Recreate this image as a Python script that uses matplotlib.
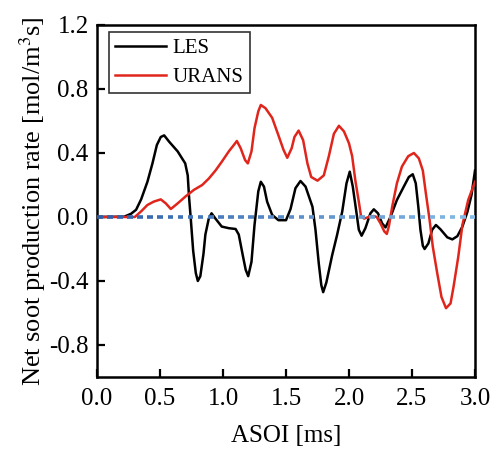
import numpy as np
import matplotlib.pyplot as plt
from matplotlib.collections import LineCollection
from matplotlib.colors import LinearSegmentedColormap

plt.rcParams['font.family'] = ['Liberation Serif', 'DejaVu Serif']
plt.rcParams['mathtext.fontset'] = 'stix'

# LES net soot production rate
les_t = [0.0, 0.216, 0.27, 0.31, 0.35, 0.40, 0.44, 0.475, 0.506, 0.533, 0.573, 0.64,
         0.70, 0.72, 0.73, 0.745, 0.763, 0.784, 0.80, 0.82, 0.845, 0.86, 0.887, 0.909,
         0.94, 0.99, 1.046, 1.10, 1.125, 1.157, 1.18, 1.20, 1.226, 1.25, 1.28, 1.30,
         1.325, 1.35, 1.39, 1.44, 1.50, 1.536, 1.575, 1.615, 1.655, 1.71, 1.734, 1.76,
         1.78, 1.795, 1.82, 1.866, 1.906, 1.946, 1.98, 2.006, 2.03, 2.06, 2.078, 2.10,
         2.13, 2.17, 2.197, 2.23, 2.263, 2.29, 2.33, 2.38, 2.435, 2.475, 2.506, 2.53,
         2.55, 2.567, 2.586, 2.60, 2.63, 2.66, 2.69, 2.726, 2.78, 2.82, 2.86, 2.90,
         2.94, 2.972, 3.0]
les_r = [0.0, 0.002, 0.02, 0.045, 0.11, 0.22, 0.335, 0.45, 0.50, 0.51, 0.47, 0.41,
         0.335, 0.26, 0.13, -0.02, -0.21, -0.35, -0.40, -0.37, -0.23, -0.11, -0.01, 0.023,
         -0.01, -0.06, -0.07, -0.075, -0.11, -0.24, -0.33, -0.37, -0.28, -0.05, 0.16, 0.22,
         0.19, 0.096, 0.013, -0.02, -0.02, 0.05, 0.18, 0.225, 0.19, 0.064, -0.08, -0.29,
         -0.425, -0.47, -0.41, -0.24, -0.11, 0.033, 0.21, 0.283, 0.19, 0.023, -0.08, -0.117,
         -0.07, 0.023, 0.048, 0.023, -0.04, -0.065, 0.002, 0.106, 0.19, 0.25, 0.267, 0.21,
         0.065, -0.08, -0.18, -0.20, -0.165, -0.08, -0.05, -0.077, -0.127, -0.14, -0.12, -0.06,
         0.033, 0.137, 0.29]

# URANS net soot production rate
urans_t = [0.0, 0.30, 0.35, 0.40, 0.45, 0.506, 0.546, 0.586, 0.64, 0.705, 0.77, 0.835,
           0.887, 0.94, 0.99, 1.046, 1.086, 1.11, 1.14, 1.175, 1.197, 1.226, 1.25, 1.28,
           1.30, 1.337, 1.39, 1.44, 1.48, 1.51, 1.545, 1.567, 1.60, 1.636, 1.67, 1.70,
           1.75, 1.80, 1.84, 1.88, 1.92, 1.96, 2.00, 2.025, 2.05, 2.08, 2.095, 2.12,
           2.157, 2.197, 2.22, 2.25, 2.28, 2.30, 2.316, 2.343, 2.38, 2.42, 2.47, 2.515,
           2.554, 2.586, 2.61, 2.64, 2.665, 2.70, 2.734, 2.77, 2.806, 2.83, 2.867, 2.90,
           2.946, 3.0]
urans_r = [0.0, 0.0, 0.035, 0.075, 0.096, 0.11, 0.085, 0.05, 0.085, 0.13, 0.17, 0.20,
           0.24, 0.29, 0.345, 0.41, 0.45, 0.475, 0.43, 0.356, 0.335, 0.41, 0.555, 0.66,
           0.70, 0.68, 0.62, 0.51, 0.42, 0.37, 0.43, 0.50, 0.54, 0.48, 0.335, 0.25,
           0.227, 0.26, 0.38, 0.52, 0.57, 0.535, 0.46, 0.38, 0.23, 0.085, 0.006, -0.01,
           0.0, 0.006, 0.0, -0.04, -0.09, -0.106, -0.06, 0.065, 0.21, 0.315, 0.38, 0.40,
           0.367, 0.29, 0.148, -0.02, -0.185, -0.35, -0.50, -0.57, -0.54, -0.435, -0.25, -0.05,
           0.106, 0.22]

xticks = [0.0, 0.5, 1.0, 1.5, 2.0, 2.5, 3.0]
yticks = [-0.8, -0.4, 0.0, 0.4, 0.8, 1.2]

fig = plt.figure(figsize=(4.91, 4.51), dpi=100)
ax = fig.add_axes([0.1976, 0.1641, 0.7698, 0.7805])

ax.plot(les_t, les_r, color='black', lw=1.8, label='LES', zorder=2,
        solid_joinstyle='round')
ax.plot(urans_t, urans_r, color='#e0261c', lw=1.8, label='URANS', zorder=3,
        solid_joinstyle='round')

# zero reference line, dashed with a dark-to-light blue fade
cmap = LinearSegmentedColormap.from_list('zfade', ['#2d5ea8', '#86bbe6'])
dash, gap = 0.045, 0.035
starts = np.arange(0.0, 3.0, dash + gap)
segs = [[(s, 0.0), (min(s + dash, 3.0), 0.0)] for s in starts]
lc = LineCollection(segs, colors=cmap(starts / 3.0), linewidths=2.6, zorder=4,
                    capstyle='butt')
ax.add_collection(lc)

ax.set_xlim(0.0, 3.0)
ax.set_ylim(-1.0, 1.2)
ax.set_xticks(xticks)
ax.set_yticks(yticks)
ax.set_xticklabels([f'{v:.1f}' for v in xticks])
ax.set_yticklabels([f'{v:.1f}' for v in yticks])
ax.tick_params(direction='in', length=6, width=1.6, labelsize=18,
               top=False, right=False, pad=6)
ax.tick_params(axis='x', pad=8)
for sp in ax.spines.values():
    sp.set_linewidth(1.8)

ax.set_xlabel('ASOI [ms]', fontsize=18, labelpad=11)
ax.set_ylabel(r'Net soot production rate [mol/m$^3$s]', fontsize=19, labelpad=1)

leg = ax.legend(loc='upper left', bbox_to_anchor=(0.032, 0.98), fontsize=15,
                frameon=True, fancybox=False, edgecolor='black', handlelength=2.45,
                borderpad=0.3, labelspacing=0.45, handletextpad=0.3,
                borderaxespad=0.0)
leg.get_frame().set_linewidth(1.2)

fig.savefig('out.png', dpi=100)
